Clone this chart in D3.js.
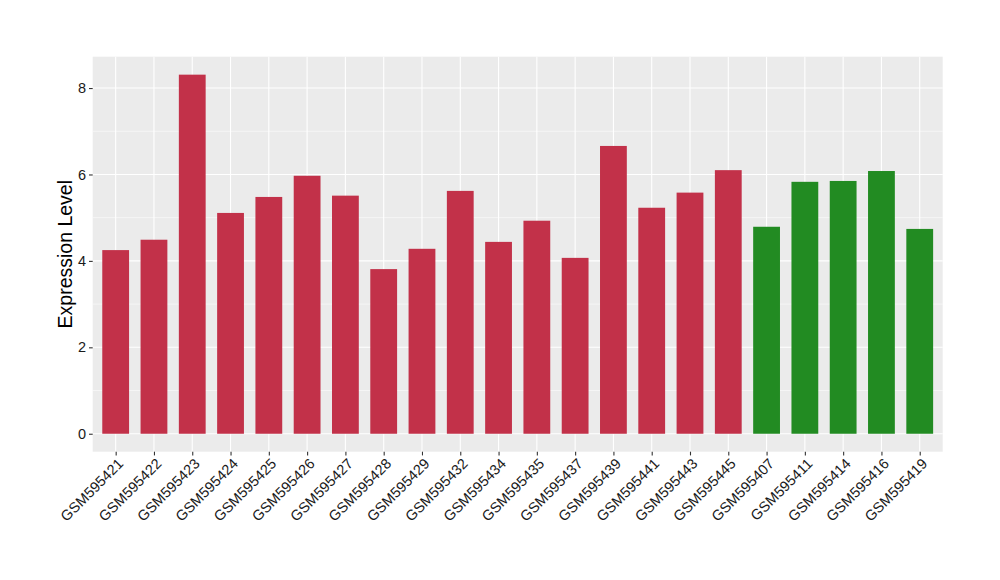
<!DOCTYPE html>
<html><head><meta charset="utf-8">
<script src="https://cdn.jsdelivr.net/npm/d3@7"></script>
<style>body{margin:0;background:#fff}svg{display:block}text{font-family:"Liberation Sans",Arial,sans-serif}</style>
</head><body>
<svg id="c" width="1000" height="580"></svg>
<script>
const categories = ["GSM595421","GSM595422","GSM595423","GSM595424","GSM595425","GSM595426","GSM595427","GSM595428","GSM595429","GSM595432","GSM595434","GSM595435","GSM595437","GSM595439","GSM595441","GSM595443","GSM595445","GSM595407","GSM595411","GSM595414","GSM595416","GSM595419"];
const values = [4.25,4.49,8.31,5.11,5.48,5.97,5.51,3.81,4.28,5.62,4.44,4.93,4.07,6.66,5.23,5.58,6.10,4.79,5.83,5.85,6.08,4.74];
const groups = ["a","a","a","a","a","a","a","a","a","a","a","a","a","a","a","a","a","b","b","b","b","b"];
const groupColors = {a:"#c23149", b:"#228b22"};
const yTicks = [0,2,4,6,8];
const yMinor = [1,3,5,7];

const L=92.7, R=942.7, T=56.7, B=451.7;
const svg = d3.select("#c");
const maxV = d3.max(values);
const y = d3.scaleLinear().domain([-maxV*0.05, maxV*1.05]).range([B,T]);
const n = categories.length;
const unit = (R-L)/(n-1+1.2);
const x = d3.scalePoint().domain(categories).range([L+0.6*unit, R-0.6*unit]);
const bw = unit*0.7;

svg.append("rect").attr("x",L).attr("y",T).attr("width",R-L).attr("height",B-T).attr("fill","#ebebeb");
svg.append("g").selectAll("line").data(yMinor).join("line")
  .attr("x1",L).attr("x2",R).attr("y1",d=>y(d)).attr("y2",d=>y(d)).attr("stroke","#fff").attr("stroke-width",0.55);
svg.append("g").selectAll("line").data(yTicks).join("line")
  .attr("x1",L).attr("x2",R).attr("y1",d=>y(d)).attr("y2",d=>y(d)).attr("stroke","#fff").attr("stroke-width",1.1);
svg.append("g").selectAll("line").data(categories).join("line")
  .attr("x1",d=>x(d)).attr("x2",d=>x(d)).attr("y1",T).attr("y2",B).attr("stroke","#fff").attr("stroke-width",1.1);

svg.append("g").selectAll("rect").data(categories).join("rect")
  .attr("x",d=>x(d)-bw/2).attr("width",bw)
  .attr("y",(d,i)=>y(values[i])).attr("height",(d,i)=>y(0)-y(values[i]))
  .attr("fill",(d,i)=>groupColors[groups[i]]);

const ya = svg.append("g").attr("transform",`translate(${L},0)`)
  .call(d3.axisLeft(y).tickValues(yTicks).tickSize(3.7).tickPadding(3).tickFormat(d3.format("d")));
ya.select(".domain").remove();
ya.selectAll(".tick line").attr("stroke","#333").attr("stroke-width",1.1);
ya.selectAll(".tick text").attr("fill","#1a1a1a").style("font-size","14.5px");

const xa = svg.append("g").attr("transform",`translate(0,${B})`)
  .call(d3.axisBottom(x).tickSize(3.7).tickPadding(3));
xa.select(".domain").remove();
xa.selectAll(".tick line").attr("stroke","#333").attr("stroke-width",1.1);
xa.selectAll(".tick text").attr("fill","#1a1a1a").style("font-size","14.5px")
  .attr("text-anchor","end").attr("dy","0.71em").attr("y",4.5).attr("x",-3.5)
  .attr("transform","rotate(-45)");

svg.append("text").attr("transform",`translate(72,${(T+B)/2}) rotate(-90)`)
  .attr("text-anchor","middle").style("font-size","19.5px").attr("fill","#000").text("Expression Level");
</script>
</body></html>
